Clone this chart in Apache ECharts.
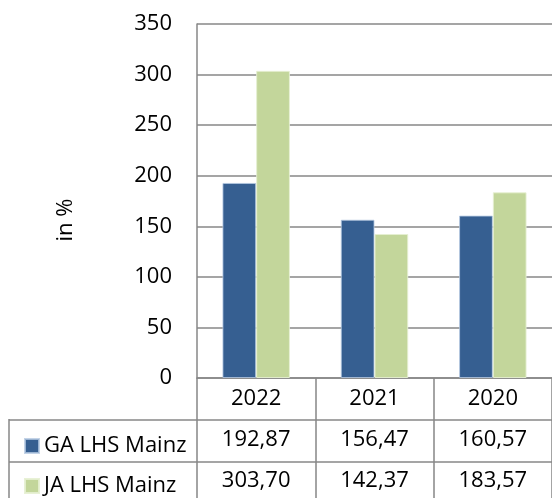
<!DOCTYPE html>
<html>
<head>
<meta charset="utf-8">
<script src="https://cdn.jsdelivr.net/npm/echarts@6/dist/echarts.min.js"></script>
<style>
html,body{margin:0;padding:0;background:#fff;}
#chart{width:552px;height:498px;}
</style>
</head>
<body>
<div id="chart"></div>
<script>
var categories = ['2022', '2021', '2020'];
var seriesNames = ['GA LHS Mainz', 'JA LHS Mainz'];
var gaValues = [192.87, 156.47, 160.57];
var jaValues = [303.70, 142.37, 183.57];
var yTicks = [0, 50, 100, 150, 200, 250, 300, 350];

var FONT = 'Open Sans';
var FS = 22;
var GRID_LEFT = 197, GRID_TOP = 24, GRID_BOTTOM = 120, GRID_RIGHT = -7;
var ROW_H = 41;
var LINE = '#878787';

function fmt(v) { return v.toFixed(2).replace('.', ','); }

var chart = echarts.init(document.getElementById('chart'), null, {renderer: 'canvas'});

var baseLabel = {fontFamily: FONT, fontSize: FS, color: '#000', verticalAlign: 'middle'};

function legendRow(name, top) {
  return {
    orient: 'horizontal', left: 19, top: top,
    itemWidth: 14, itemHeight: 14, itemTextGap: 6, icon: 'rect',
    textStyle: {fontFamily: FONT, fontSize: FS, color: '#000', lineHeight: 24},
    data: [name]
  };
}

var option = {
  animation: false,
  backgroundColor: '#fff',
  grid: {left: GRID_LEFT, top: GRID_TOP, bottom: GRID_BOTTOM, right: GRID_RIGHT, containLabel: false},
  legend: [legendRow(seriesNames[0], 429), legendRow(seriesNames[1], 469)],
  xAxis: [
    {
      type: 'category', data: categories, position: 'bottom',
      axisLine: {show: true, lineStyle: {color: LINE, width: 1.5}},
      axisTick: {show: true, length: 130, lineStyle: {color: LINE, width: 1.5}},
      axisLabel: Object.assign({margin: 21}, baseLabel),
      splitLine: {show: false}
    },
    {
      type: 'category', data: categories, position: 'bottom', offset: ROW_H,
      axisLine: {show: false}, axisTick: {show: false},
      axisLabel: Object.assign({margin: 21, formatter: function (v, i) { return fmt(gaValues[i]); }}, baseLabel)
    },
    {
      type: 'category', data: categories, position: 'bottom', offset: ROW_H * 2,
      axisLine: {show: false}, axisTick: {show: false},
      axisLabel: Object.assign({margin: 21, formatter: function (v, i) { return fmt(jaValues[i]); }}, baseLabel)
    }
  ],
  yAxis: {
    type: 'value', min: yTicks[0], max: yTicks[yTicks.length - 1], interval: 50,
    name: 'in %', nameLocation: 'middle', nameGap: 120, nameRotate: 90,
    nameTextStyle: {fontFamily: FONT, fontSize: FS, color: '#000', padding: [0, 38, 0, 0]},
    axisLine: {show: true, lineStyle: {color: LINE, width: 1.5}},
    axisTick: {show: false},
    axisLabel: {fontFamily: FONT, fontSize: FS, color: '#000', margin: 25},
    splitLine: {show: true, lineStyle: {color: LINE, width: 1.5}}
  },
  series: [
    {
      name: seriesNames[0], type: 'bar', data: gaValues, xAxisIndex: 0,
      barGap: '0%', barCategoryGap: '43%',
      itemStyle: {color: '#365f91', borderColor: 'rgba(180,200,225,0.8)', borderWidth: 1}
    },
    {
      name: seriesNames[1], type: 'bar', data: jaValues, xAxisIndex: 0,
      barGap: '0%', barCategoryGap: '43%',
      itemStyle: {color: '#c3d69b', borderColor: 'rgba(230,240,210,0.9)', borderWidth: 1}
    }
  ]
};
chart.setOption(option);

// table lines
var W = 552, H = 498;
var axisY = H - GRID_BOTTOM;
var tableLeft = 9;
var lines = [
  [tableLeft, axisY + ROW_H + 1, W + 10, axisY + ROW_H + 1],
  [tableLeft, axisY + ROW_H * 2 + 2, W + 10, axisY + ROW_H * 2 + 2],
  [tableLeft, axisY + ROW_H, tableLeft, H + 10]
];
chart.setOption({
  graphic: lines.map(function (l) {
    return {type: 'line', silent: true, shape: {x1: l[0], y1: l[1], x2: l[2], y2: l[3]},
      style: {stroke: LINE, lineWidth: 1.5}};
  })
});
</script>
</body>
</html>
